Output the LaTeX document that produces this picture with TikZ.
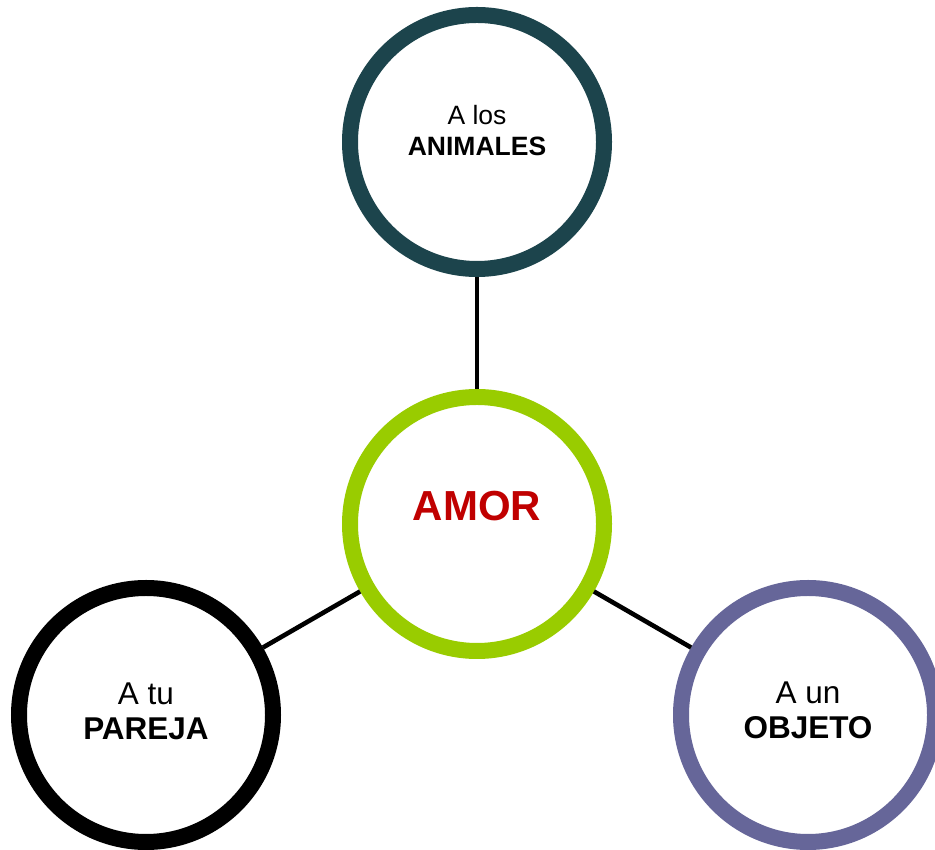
\documentclass[tikz,border=0pt]{standalone}
\usepackage{fontspec}
\setmainfont{Liberation Sans}
\definecolor{teal}{HTML}{1C444C}
\definecolor{lgreen}{HTML}{99CC00}
\definecolor{lilac}{HTML}{666699}
\definecolor{dred}{HTML}{C00000}
\tikzset{
  ring/.style={circle, draw=#1, line width=16bp, fill=white, minimum size=254bp, inner sep=0pt},
  link/.style={draw=black, line width=4.6bp},
  smalltxt/.style={align=center, inner sep=0pt, font=\fontsize{26.5bp}{31bp}\selectfont},
  bigtxt/.style={align=center, inner sep=0pt, font=\fontsize{31.5bp}{35bp}\selectfont},
}
\begin{document}
\begin{tikzpicture}[x=1bp,y=1bp]
\useasboundingbox (0,0) rectangle (935,850);
\node[ring=teal]   (top)    at (477,708) {};
\node[ring=lgreen] (center) at (477,326) {};
\node[ring=black]  (left)   at (146,135) {};
\node[ring=lilac]  (right)  at (808,135) {};
\draw[link] (top) -- (center);
\draw[link] (center) -- (left);
\draw[link] (center) -- (right);
\node[smalltxt] (topT) at (477,719.5) {A los\\\textbf{ANIMALES}};
\node[align=center, inner sep=0pt, text=dred, font=\fontsize{42bp}{48bp}\selectfont\bfseries] (centerT) at (477,344) {AMOR};
\node[bigtxt] (leftT) at (146,138.5) {A tu\\\textbf{PAREJA}};
\node[bigtxt] (rightT) at (808,140) {A un\\\textbf{OBJETO}};
\end{tikzpicture}
\end{document}
